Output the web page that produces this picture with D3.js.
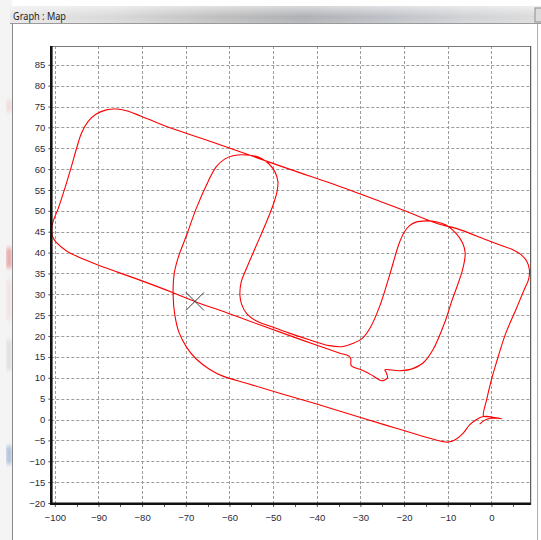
<!DOCTYPE html>
<html>
<head>
<meta charset="utf-8">
<script src="https://cdn.jsdelivr.net/npm/d3@7"></script>
<style>
  html, body { margin: 0; padding: 0; background: #fff; }
  svg { display: block; }
</style>
</head>
<body>
<svg id="chart" width="541" height="540"></svg>
<script>
// Recorded vehicle track (metres), in driving order, starting at the origin.
const trackX = [
  -2.7, -1.6, -0.2, 1.2, 2.4, 0.8, -0.8, -1.8,
  -1.1, 0.0, 1.1, 3.3, 5.6, 7.5, 8.5, 8.7, 8.1, 6.8, 4.9, 2.6, -0.5,
  -8.1, -11.9, -20.3, -32.5, -46.3, -56.1, -65.3, -74.4, -80.5, -83.6,
  -85.9, -88.2, -90.5, -92.4, -93.9, -95.0, -96.2, -97.7, -99.2, -100.4,
  -100.7, -100.5, -99.6, -97.3, -94.3, -90.1, -80.5, -72.9, -67.9, -59.9,
  -52.3, -46.2, -40.8, -34.7, -32.6, -32.2, -32.1, -29.8, -27.5, -26.3,
  -25.2, -24.4, -23.8, -24.1, -24.4, -21.0, -18.0, -15.6, -13.4, -10.6,
  -9.2, -6.6, -6.0, -6.6, -8.1, -10.4, -12.7, -15.0, -17.3, -18.8,
  -19.9, -21.1, -23.4, -25.6, -27.6, -29.5, -31.8, -34.0, -37.1, -41.7,
  -46.3, -50.5, -53.8, -56.0, -57.2, -57.6, -57.3, -56.1, -53.8, -51.5,
  -50.0, -49.1, -48.9, -49.6, -51.1, -53.1, -56.1, -59.2, -61.1, -63.0,
  -64.9, -67.6, -69.8, -71.8, -72.7, -72.9, -72.5, -71.6, -69.8, -67.6,
  -64.5, -61.5, -56.1, -48.5, -39.3, -29.4, -21.8, -14.1, -11.1, -9.9,
  -8.4, -6.5, -5.0, -3.4, -2.3, -1.2, 0.2
];
const trackY = [
  -1.1, -0.2, 0.3, 0.3, 0.2, 0.5, 0.7, 0.8,
  4.7, 9.5, 13.5, 20.7, 26.3, 31.1, 33.5, 35.9, 37.9, 39.5, 40.7, 41.6, 42.8,
  45.8, 46.8, 50.2, 55.0, 60.0, 63.6, 67.0, 70.2, 72.8, 74.0,
  74.4, 74.2, 73.2, 71.4, 68.6, 65.0, 60.6, 55.4, 50.6, 47.4,
  45.4, 43.8, 42.4, 40.4, 38.8, 37.0, 33.4, 30.4, 28.3, 25.3,
  22.4, 20.1, 18.1, 15.9, 15.2, 14.5, 12.9, 11.9, 10.7, 9.9,
  9.3, 9.5, 10.0, 11.3, 11.9, 11.7, 12.2, 13.6, 16.7, 23.5,
  28.0, 35.9, 39.9, 42.3, 44.6, 46.6, 47.4, 47.6, 47.3, 46.4,
  45.0, 42.3, 34.3, 27.1, 22.3, 19.5, 18.2, 17.5, 17.7, 19.1,
  20.7, 22.3, 23.6, 25.3, 27.6, 29.8, 33.0, 36.2, 41.8, 47.4,
  51.4, 54.6, 57.0, 59.4, 61.4, 62.8, 63.4, 63.2, 62.4, 60.6,
  57.0, 50.6, 44.2, 38.6, 34.6, 29.8, 25.0, 21.0, 17.3, 14.5,
  12.0, 10.4, 8.7, 6.3, 3.5, 0.3, -2.1, -4.5, -5.3, -5.4,
  -4.9, -3.3, -1.3, 0.0, 0.6, 0.8, 0.6
];

// Current position marker
const markerX = [-67.9];
const markerY = [28.3];

// Axis ticks and labels
const xTicks = [-100, -90, -80, -70, -60, -50, -40, -30, -20, -10, 0];
const xMinorTicks = [-95, -85, -75, -65, -55, -45, -35, -25, -15, -5, 5];
const yTicks = [-20, -15, -10, -5, 0, 5, 10, 15, 20, 25, 30, 35, 40, 45, 50, 55, 60, 65, 70, 75, 80, 85];

const title = "Graph : Map";

const svg = d3.select("#chart");
const plot = { left: 51.3, right: 530.7, top: 46, bottom: 503 };

const x = d3.scaleLinear().domain([-100.8, 9.0]).range([plot.left, plot.right]);
const y = d3.scaleLinear().domain([-20, 89.5]).range([plot.bottom, plot.top]);

// ---- window frame ----
const defs = svg.append("defs");
const tg = defs.append("linearGradient").attr("id", "titleGrad");
[[0, "#e6e6e6"], [0.2, "#d6d6d6"], [0.4, "#bababa"], [0.55, "#aaacb0"],
 [0.7, "#b9bcc2"], [0.85, "#cdcfd2"], [1, "#dadada"]]
  .forEach(([o, c]) => tg.append("stop").attr("offset", o).attr("stop-color", c));
const sheen = defs.append("linearGradient").attr("id", "sheen")
  .attr("x1", 0).attr("y1", 0).attr("x2", 0).attr("y2", 1);
sheen.append("stop").attr("offset", 0).attr("stop-color", "#fff").attr("stop-opacity", 0.55);
sheen.append("stop").attr("offset", 0.6).attr("stop-color", "#fff").attr("stop-opacity", 0.05);
sheen.append("stop").attr("offset", 1).attr("stop-color", "#fff").attr("stop-opacity", 0.2);
defs.append("filter").attr("id", "soft").append("feGaussianBlur").attr("stdDeviation", 2);

// desktop strip at the far left
svg.append("rect").attr("x", 0).attr("y", 0).attr("width", 12).attr("height", 540).attr("fill", "#f4f4f4");
const smudges = [
  { y: 100, h: 12, c: "#eec4c4" }, { y: 248, h: 20, c: "#de6060" },
  { y: 280, h: 40, c: "#f0d4d4" }, { y: 340, h: 30, c: "#cccccc" },
  { y: 446, h: 18, c: "#6b92c8" }
];
svg.append("g").attr("filter", "url(#soft)").attr("opacity", 0.75)
  .selectAll("rect").data(smudges).join("rect")
  .attr("x", 7).attr("y", d => d.y).attr("width", 4).attr("height", d => d.h).attr("fill", d => d.c);

// title bar
svg.append("rect").attr("x", 10).attr("y", 6).attr("width", 531).attr("height", 18).attr("fill", "url(#titleGrad)");
svg.append("rect").attr("x", 10).attr("y", 6).attr("width", 531).attr("height", 18).attr("fill", "url(#sheen)");
svg.append("text").attr("x", 13).attr("y", 19.5)
  .attr("font-family", "'Noto Sans', 'Liberation Sans', sans-serif").attr("font-size", 11)
  .attr("fill", "#1e1e1e").attr("textLength", 53).attr("lengthAdjust", "spacingAndGlyphs")
  .text(title);
svg.append("rect").attr("x", 535).attr("y", 8).attr("width", 8).attr("height", 14)
  .attr("fill", "#dcdcdc").attr("stroke", "#8d8d8d");

// client area
svg.append("rect").attr("x", 12).attr("y", 24).attr("width", 525).attr("height", 516).attr("fill", "#fff");
svg.append("line").attr("x1", 10).attr("x2", 541).attr("y1", 23.5).attr("y2", 23.5).attr("stroke", "#9a9a9a");
svg.append("line").attr("x1", 12.5).attr("x2", 12.5).attr("y1", 24).attr("y2", 540).attr("stroke", "#8a8a8a");
svg.append("line").attr("x1", 537.5).attr("x2", 537.5).attr("y1", 24).attr("y2", 540).attr("stroke", "#b0b0b0");

// ---- grid ----
const snap = v => Math.round(v) + 0.5;
const grid = svg.append("g").attr("stroke", "#9c9c9c").attr("stroke-dasharray", "3,2").attr("stroke-width", 1);
grid.selectAll("line.h").data(yTicks.filter(v => v > -20)).join("line").attr("class", "h")
  .attr("x1", plot.left).attr("x2", plot.right)
  .attr("y1", d => snap(y(d))).attr("y2", d => snap(y(d)));
grid.selectAll("line.v").data(xTicks).join("line").attr("class", "v")
  .attr("y1", plot.top).attr("y2", plot.bottom)
  .attr("x1", d => snap(x(d))).attr("x2", d => snap(x(d)));

// ---- track ----
const pts = trackX.map((v, i) => [v, trackY[i]]);
const line = d3.line().x(d => x(d[0])).y(d => y(d[1])).curve(d3.curveCatmullRom.alpha(0.5));
svg.append("path").datum(pts).attr("d", line)
  .attr("fill", "none").attr("stroke", "#ff0000").attr("stroke-width", 1.1).attr("stroke-linejoin", "round");

// position marker
const mk = svg.append("g").attr("stroke", "#3a3a3a").attr("stroke-width", 1);
markerX.forEach((mx, i) => {
  const cx = x(mx), cy = y(markerY[i]), r = 9;
  mk.append("line").attr("x1", cx - r).attr("y1", cy - r).attr("x2", cx + r).attr("y2", cy + r);
  mk.append("line").attr("x1", cx - r).attr("y1", cy + r).attr("x2", cx + r).attr("y2", cy - r);
});

// ---- frame and axes ----
svg.append("line").attr("x1", plot.left).attr("x2", plot.right).attr("y1", plot.top + 0.5).attr("y2", plot.top + 0.5)
  .attr("stroke", "#7a7a7a");
svg.append("line").attr("x1", plot.right).attr("x2", plot.right).attr("y1", plot.top).attr("y2", plot.bottom + 2)
  .attr("stroke", "#3a3a3a");

const font = "'Liberation Sans', Arial, sans-serif";
const yAxis = svg.append("g").attr("transform", `translate(${plot.left},0)`)
  .call(d3.axisLeft(y).tickValues(yTicks).tickSize(3).tickPadding(3).tickFormat(d3.format("d")));
const xAxis = svg.append("g").attr("transform", `translate(0,${plot.bottom + 1})`)
  .call(d3.axisBottom(x).tickValues(xTicks).tickSize(3).tickPadding(7).tickFormat(d3.format("d")));
[yAxis, xAxis].forEach(g => {
  g.select(".domain").remove();
  g.selectAll(".tick line").attr("stroke", "#555");
  g.selectAll("text").attr("font-family", font).attr("font-size", 9.5).attr("fill", "#2b2b3a");
});
svg.append("g").selectAll("line").data(xMinorTicks).join("line")
  .attr("x1", d => snap(x(d))).attr("x2", d => snap(x(d)))
  .attr("y1", plot.bottom + 1).attr("y2", plot.bottom + 4).attr("stroke", "#555");

svg.append("line").attr("x1", plot.left).attr("x2", plot.left).attr("y1", plot.top).attr("y2", plot.bottom + 2)
  .attr("stroke", "#111").attr("stroke-width", 2.6);
svg.append("line").attr("x1", plot.left - 1.3).attr("x2", plot.right).attr("y1", plot.bottom + 0.8).attr("y2", plot.bottom + 0.8)
  .attr("stroke", "#111").attr("stroke-width", 2.4);
</script>
</body>
</html>
